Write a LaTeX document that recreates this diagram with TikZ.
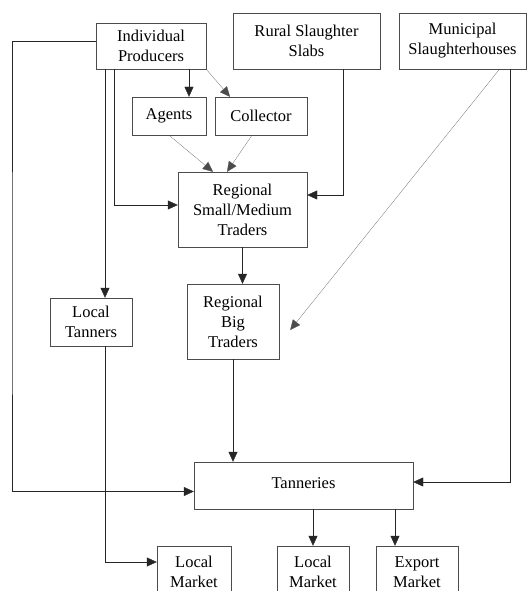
\documentclass[tikz,border=0pt]{standalone}
\usepackage{fontspec}
\setmainfont{Liberation Serif}
\usetikzlibrary{positioning,arrows.meta}

\begin{document}
\begin{tikzpicture}[x=1pt,y=-1pt,
    box/.style={draw=black!70,align=center,inner sep=0pt,font=\fontsize{16.5}{20}\selectfont},
    arr/.style={draw=black!85,-{Triangle[length=10pt,width=9pt]}},
    thin arr/.style={draw=black!70,very thin,-{Triangle[length=10pt,width=9pt]}}]
            \useasboundingbox (0,0) rectangle (528,591);
            \node[box,minimum width=110pt,minimum height=46pt] (prod) at (151,46) {Individual\\Producers};
            \node[box,minimum width=147pt,minimum height=56pt] (rural) at (306.5,41) {Rural Slaughter\\Slabs};
            \node[box,minimum width=127pt,minimum height=56pt] (muni) at (462.5,41) {Municipal\\Slaughterhouses};
            \node[box,minimum width=74pt,minimum height=38pt] (agents) at (169,116) {Agents};
            \node[box,minimum width=92pt,minimum height=38pt] (coll) at (261,116) {Collector};
            \node[box,minimum width=129pt,minimum height=75pt] (rsm) at (242.5,209.5) {Regional\\Small/Medium\\Traders};
            \node[box,minimum width=92pt,minimum height=75pt] (rbig) at (233,321.5) {Regional\\Big\\Traders};
            \node[box,minimum width=82pt,minimum height=48pt] (ltan) at (91,322) {Local\\Tanners};
            \node[box,minimum width=219pt,minimum height=47pt] (tann) at (303.5,485.5) {\raisebox{5pt}{Tanneries}};
            \node[box,minimum width=74pt,minimum height=52pt] (lmkt) at (194,572) {Local\\Market};
            \node[box,minimum width=72pt,minimum height=52pt] (tmkt) at (313,572) {Local\\Market};
            \node[box,minimum width=82pt,minimum height=52pt] (exp) at (417,572) {Export\\Market};

            % points where the lines leave or reach the boxes
            \coordinate (lft) at (12,300);
            \coordinate (tanin) at ([xshift=14pt]ltan.north);
            \coordinate (p2) at ([xshift=18pt]prod.south west);
            \coordinate (agin) at ([xshift=20pt]agents.north);
            \coordinate (rout) at ([xshift=36.5pt]rural.south);
            \coordinate (mout) at ([xshift=47.5pt]muni.south);
            \coordinate (expin) at ([xshift=-22pt]exp.north);

            \draw[arr] ([yshift=5pt]prod.west) -| (lft) |- ([yshift=-6pt]tann.west);
            \draw[arr] (tanin |- prod.south) -- (tanin);
            \draw[arr] (p2) |- ([yshift=4.5pt]rsm.west);
            \draw[arr] (agin |- prod.south) -- (agin);
            \draw[thin arr] (prod.south east) -- ([xshift=-31pt]coll.north);
            \draw[thin arr] (agents.south) -- ([xshift=-29.5pt]rsm.north);
            \draw[thin arr] ([xshift=-9pt]coll.south) -- ([xshift=-15.5pt]rsm.north);
            \draw[arr] (rout) |- ([yshift=14.5pt]rsm.east);
            \draw[thin arr] ([xshift=37pt]muni.south) -- ([xshift=11pt,yshift=-8.5pt]rbig.east);
            \draw[arr] (mout) |- ([yshift=3.5pt]tann.east);
            \draw[arr] (rsm.south) -- (rsm.south |- rbig.north);
            \draw[arr] (rbig.south) -- (rbig.south |- tann.north);
            \draw[arr] (tanin |- ltan.south) |- ([yshift=10pt]lmkt.west);
            \draw[arr] (tmkt.north |- tann.south) -- (tmkt.north);
            \draw[arr] (expin |- tann.south) -- (expin);

        \end{tikzpicture}
\end{document}
